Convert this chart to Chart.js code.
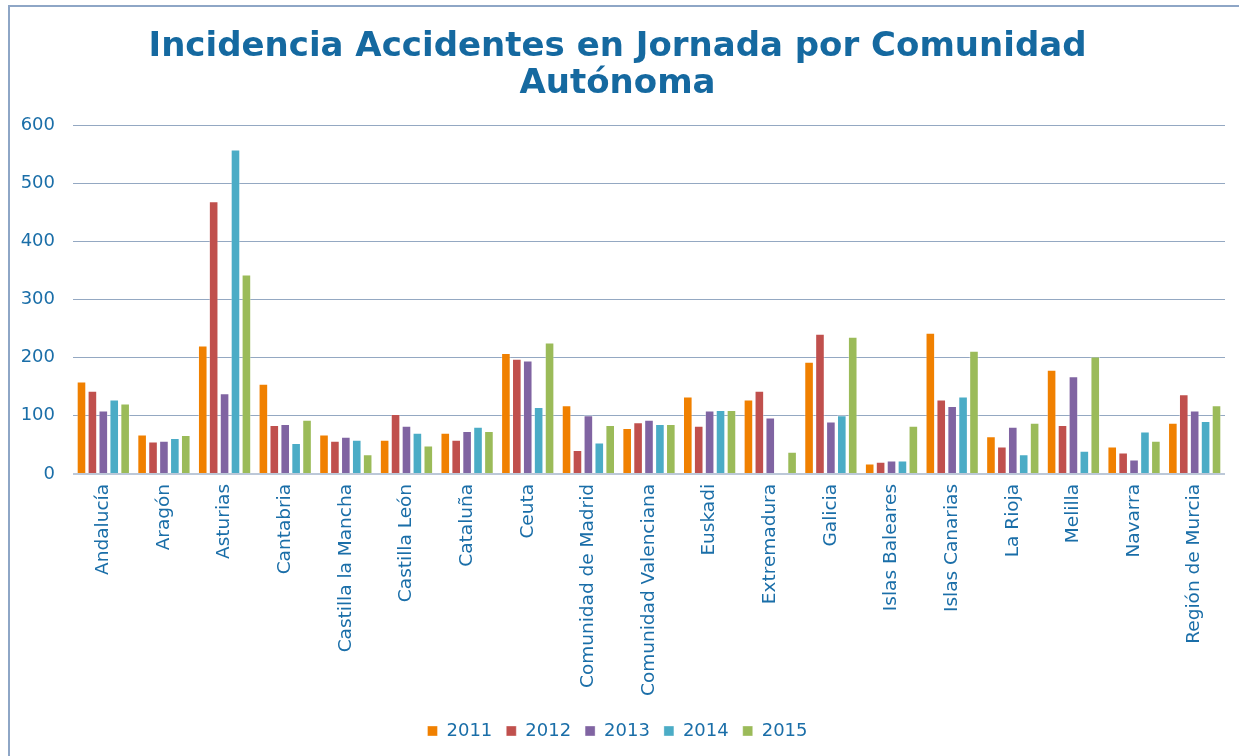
<!DOCTYPE html>
<html>
<head>
<meta charset="utf-8">
<script src="https://cdn.jsdelivr.net/npm/chart.js@4/dist/chart.umd.min.js"></script>
<style>
  html, body { margin: 0; padding: 0; background: #fff; }
  #wrap {
    position: absolute; left: 8px; top: 5px; width: 1231px; height: 751px;
    border-left: 2px solid #8ea6c6; border-top: 2px solid #8ea6c6;
    box-sizing: border-box;
  }
  canvas { display: block; }
</style>
</head>
<body>
<div id="wrap"><canvas id="chart"></canvas></div>
<script>
// Incidencia por comunidad, 2011-2015
const regions = ['Andalucía', 'Aragón', 'Asturias', 'Cantabria', 'Castilla la Mancha',
  'Castilla León', 'Cataluña', 'Ceuta', 'Comunidad de Madrid', 'Comunidad Valenciana',
  'Euskadi', 'Extremadura', 'Galicia', 'Islas Baleares', 'Islas Canarias', 'La Rioja',
  'Melilla', 'Navarra', 'Región de Murcia'];

const y2011 = [159, 68, 221, 155, 68, 59, 71, 208, 118, 79, 133, 128, 193, 18, 243, 65, 179, 47, 88];
const y2012 = [143, 56, 469, 84, 57, 103, 59, 198, 41, 89, 83, 143, 241, 21, 128, 47, 84, 37, 137];
const y2013 = [109, 57, 139, 86, 64, 83, 74, 195, 101, 93, 109, 97, 90, 23, 117, 81, 168, 25, 109];
const y2014 = [128, 62, 558, 53, 59, 71, 81, 115, 54, 86, 110, 0, 101, 23, 133, 34, 40, 73, 91];
const y2015 = [121, 67, 343, 93, 34, 49, 74, 226, 84, 86, 110, 38, 236, 83, 212, 88, 202, 57, 118];

const yTicks = [0, 100, 200, 300, 400, 500, 600];

const textBlue = '#1a6ea8';
const font = "Verdana, 'DejaVu Sans', sans-serif";

function series(label, data, color) {
  return {
    label: label,
    data: data,
    backgroundColor: color,
    borderColor: 'rgba(255,255,255,0.35)',
    borderWidth: 1,
    categoryPercentage: 0.9,
    barPercentage: 0.88
  };
}

const ctx = document.getElementById('chart').getContext('2d');
const chart = new Chart(ctx, {
  type: 'bar',
  data: {
    labels: regions,
    datasets: [
      series('2011', y2011, '#f08000'),
      series('2012', y2012, '#c0504d'),
      series('2013', y2013, '#8064a2'),
      series('2014', y2014, '#4bacc6'),
      series('2015', y2015, '#9bbb59')
    ]
  },
  options: {
    responsive: true,
    maintainAspectRatio: false,
    animation: false,
    layout: { padding: { left: 0, right: 14, top: 22, bottom: 6 } },
    plugins: {
      title: {
        display: true,
        text: ['Incidencia Accidentes en Jornada por Comunidad', 'Autónoma'],
        color: '#1569a0',
        font: { family: font, size: 34, weight: 'bold', lineHeight: 1.09 },
        padding: { top: 0, bottom: 22 }
      },
      legend: {
        position: 'bottom',
        labels: {
          color: textBlue,
          font: { family: font, size: 18 },
          boxWidth: 10,
          boxHeight: 10,
          padding: 14
        }
      },
      tooltip: { enabled: false }
    },
    scales: {
      x: {
        afterFit: axis => { axis.height += 10; },
        grid: { display: false },
        border: { display: false },
        ticks: {
          color: textBlue,
          font: { family: font, size: 18.5 },
          maxRotation: 90,
          minRotation: 90,
          autoSkip: false,
          padding: 2
        }
      },
      y: {
        min: 0,
        max: 600,
        afterBuildTicks: axis => { axis.ticks = yTicks.map(v => ({ value: v })); },
        afterFit: axis => { axis.width = 63; },
        grid: {
          color: c => c.tick.value === 0 ? '#bcc8d8' : '#94a8c2',
          lineWidth: c => c.tick.value === 0 ? 2 : 1,
          drawTicks: false
        },
        border: { display: false },
        ticks: {
          color: textBlue,
          font: { family: font, size: 18 },
          padding: 18
        }
      }
    }
  }
});
</script>
</body>
</html>
